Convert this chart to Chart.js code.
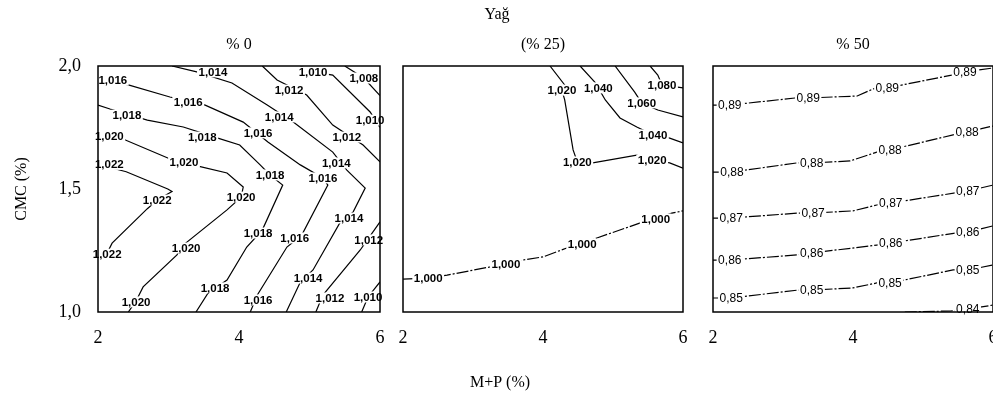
<!DOCTYPE html>
<html>
<head>
<meta charset="utf-8">
<script src="https://cdn.jsdelivr.net/npm/chart.js@4.4.1/dist/chart.umd.min.js"></script>
<style>
  html { margin: 0; padding: 0; overflow: hidden; background: #fff; }
  body { margin: 0; padding: 0; background: #fff; width: 1030px; height: 396px; position: relative; }
  canvas { position: absolute; left: 0; top: 0; }
</style>
</head>
<body>
<canvas id="c0" width="1025" height="396"></canvas>
<canvas id="c1" width="1025" height="396"></canvas>
<canvas id="c2" width="1025" height="396"></canvas>
<script>
// ---- axis and panel text ----
const xTicks = [2, 4, 6];
const yTicks = [1.0, 1.5, 2.0];
const panelTitles = ['% 0', '(% 25)', '% 50'];
const figureTitle = 'Yağ';
const xTitle = 'M+P (%)';
const yTitle = 'CMC (%)';

// ---- Yağ % 0 : contour levels, contour paths [M+P, CMC], label spots ----
const levelsA = ['1,022', '1,020', '1,018', '1,016', '1,014', '1,012', '1,012', '1,010', '1,010', '1,008'];
const pathsA = [
  [[2.00,1.60],[2.40,1.57],[2.99,1.50],[3.05,1.49],[2.84,1.455],[2.70,1.42],[2.20,1.28],[2.13,1.24],[2.00,1.22]],
  [[2.00,1.715],[2.38,1.70],[2.99,1.626],[3.42,1.593],[3.83,1.565],[4.06,1.508],[4.03,1.467],[3.83,1.415],[3.20,1.27],[3.12,1.232],[2.64,1.102],[2.54,1.045],[2.43,1.0]],
  [[2.00,1.841],[2.17,1.825],[2.70,1.780],[3.21,1.752],[3.70,1.707],[4.01,1.679],[4.30,1.598],[4.44,1.557],[4.62,1.516],[4.33,1.333],[4.11,1.264],[3.83,1.130],[3.56,1.077],[3.39,1.0]],
  [[2.00,1.947],[2.43,1.923],[3.02,1.874],[3.52,1.841],[4.06,1.772],[4.41,1.691],[4.87,1.598],[5.19,1.545],[5.26,1.516],[4.89,1.313],[4.68,1.264],[4.26,1.069],[4.16,1.0]],
  [[3.05,2.0],[3.40,1.976],[3.90,1.931],[4.40,1.841],[4.77,1.772],[5.33,1.650],[5.53,1.577],[5.79,1.504],[5.62,1.407],[5.43,1.362],[5.05,1.171],[4.87,1.122],[4.67,1.0]],
  [[4.33,2.0],[4.54,1.943],[4.96,1.882],[5.33,1.760],[5.76,1.679],[6.0,1.610]],
  [[6.0,1.366],[5.72,1.252],[5.19,1.069],[5.09,1.0]],
  [[4.87,2.0],[5.05,1.976],[5.33,1.963],[5.86,1.813],[6.0,1.75]],
  [[6.0,1.122],[5.83,1.061],[5.74,1.0]],
  [[5.50,2.0],[5.77,1.951],[6.0,1.88]]
];
const labelPosA = [
  [[2.16,1.60],[2.84,1.455],[2.13,1.235]],
  [[2.16,1.715],[3.22,1.610],[4.03,1.467],[3.25,1.26],[2.54,1.041]],
  [[2.41,1.80],[3.48,1.711],[4.44,1.557],[4.27,1.321],[3.66,1.098]],
  [[2.21,1.943],[3.28,1.854],[4.27,1.728],[5.19,1.545],[4.79,1.301],[4.27,1.049]],
  [[3.63,1.976],[4.57,1.793],[5.38,1.606],[5.56,1.382],[4.98,1.138]],
  [[4.71,1.902],[5.53,1.711]],
  [[5.84,1.293],[5.29,1.057]],
  [[5.05,1.976],[5.86,1.78]],
  [[5.83,1.061]],
  [[5.77,1.951]]
];

// ---- Yağ % 25 ----
const levelsB = ['1,020', '1,040', '1,060', '1,080', '1,000'];
const pathsB = [
  [[4.10,2.0],[4.31,1.923],[4.27,1.902],[4.31,1.862],[4.43,1.659],[4.49,1.610],[4.71,1.606],[5.34,1.638],[5.56,1.618],[5.81,1.606],[6.0,1.585]],
  [[4.53,2.0],[4.74,1.935],[4.79,1.911],[4.89,1.862],[5.10,1.789],[5.34,1.752],[5.57,1.720],[5.81,1.707],[6.0,1.687]],
  [[5.03,2.0],[5.31,1.894],[5.41,1.850],[5.64,1.821],[6.0,1.793]],
  [[5.53,2.0],[5.64,1.963],[5.70,1.923],[6.0,1.911]],
  [[2.0,1.134],[2.36,1.138],[2.63,1.150],[3.24,1.183],[3.47,1.195],[3.71,1.211],[4.00,1.224],[4.34,1.260],[4.56,1.276],[4.77,1.301],[5.39,1.362],[5.61,1.378],[5.84,1.402],[6.0,1.411]]
];
const labelPosB = [
  [[4.27,1.902],[4.49,1.610],[5.56,1.618]],
  [[4.79,1.911],[5.57,1.720]],
  [[5.41,1.850]],
  [[5.70,1.923]],
  [[2.36,1.138],[3.47,1.195],[4.56,1.276],[5.61,1.378]]
];
const dashedB = [false, false, false, false, true];

// ---- Yağ % 50 ----
const levelsC = ['0,89', '0,88', '0,87', '0,86', '0,85', '0,84'];
const pathsC = [
  [[2.0,1.841],[2.24,1.841],[3.17,1.870],[3.36,1.870],[4.06,1.878],[4.29,1.907],[4.49,1.911],[5.41,1.963],[5.60,1.976],[6.0,1.992]],
  [[2.0,1.569],[2.27,1.569],[3.20,1.606],[3.41,1.606],[3.96,1.614],[4.34,1.650],[4.53,1.659],[5.43,1.720],[5.63,1.732],[6.0,1.756]],
  [[2.0,1.382],[2.26,1.382],[3.21,1.402],[3.43,1.402],[4.0,1.411],[4.34,1.435],[4.54,1.443],[5.46,1.484],[5.64,1.492],[6.0,1.516]],
  [[2.0,1.211],[2.24,1.211],[3.20,1.232],[3.41,1.240],[4.34,1.272],[4.54,1.280],[5.46,1.321],[5.64,1.325],[6.0,1.350]],
  [[2.0,1.057],[2.26,1.057],[3.21,1.089],[3.41,1.089],[4.0,1.098],[4.34,1.118],[4.53,1.118],[5.43,1.171],[5.64,1.171],[6.0,1.191]],
  [[4.74,1.0],[5.39,1.004],[5.64,1.012],[6.0,1.028]]
];
const labelPosC = [
  [[2.24,1.841],[3.36,1.870],[4.49,1.911],[5.60,1.976]],
  [[2.27,1.569],[3.41,1.606],[4.53,1.659],[5.63,1.732]],
  [[2.26,1.382],[3.43,1.402],[4.54,1.443],[5.64,1.492]],
  [[2.24,1.211],[3.41,1.240],[4.54,1.280],[5.64,1.325]],
  [[2.26,1.057],[3.41,1.089],[4.53,1.118],[5.64,1.171]],
  [[5.64,1.012]]
];
const dashedC = [true, true, true, true, true, true];

// ---- drawing ----
const SERIF = '"Liberation Serif", "Times New Roman", serif';
const DASH = [12, 2, 2, 2];
const CANVAS_W = 1025;

function makePanel(canvasId, idx, areaLeft, areaRight, levels, paths, labelPos, dashed, labelFont) {
  const datasets = paths.map((p, i) => ({
    label: levels[i],
    data: p.map(([x, y]) => ({ x, y })),
    borderColor: '#000',
    borderWidth: 1.2,
    borderDash: dashed && dashed[i] ? DASH : [],
    pointRadius: 0,
    tension: 0,
    fill: false
  }));

  const contourLabels = {
    id: 'contourLabels' + idx,
    afterDatasetsDraw(chart) {
      const ctx = chart.ctx;
      const xs = chart.scales.x, ys = chart.scales.y;
      const a = chart.chartArea;
      ctx.save();
      ctx.font = labelFont;
      ctx.textAlign = 'center';
      ctx.textBaseline = 'middle';
      labelPos.forEach((spots, i) => {
        const txt = levels[i];
        const w = ctx.measureText(txt).width;
        spots.forEach(([x, y]) => {
          const px = xs.getPixelForValue(x);
          const py = ys.getPixelForValue(y);
          ctx.fillStyle = '#fff';
          ctx.fillRect(px - w / 2 - 1.5, py - 5.5, w + 3, 11);
          ctx.fillStyle = '#000';
          ctx.fillText(txt, px, py + 0.5);
        });
      });
      // panel frame
      ctx.lineWidth = 1.5;
      ctx.strokeStyle = '#000';
      ctx.strokeRect(a.left, a.top, a.right - a.left, a.bottom - a.top);
      // panel heading
      ctx.font = '16px ' + SERIF;
      ctx.fillStyle = '#000';
      ctx.textBaseline = 'middle';
      ctx.fillText(panelTitles[idx], (a.left + a.right) / 2, 45);
      if (idx === 1) {
        ctx.fillText(figureTitle, 497, 15);
        ctx.fillText(xTitle, 500, 383);
      }
      ctx.restore();
    }
  };

  return new Chart(document.getElementById(canvasId), {
    type: 'line',
    data: { datasets },
    options: {
      responsive: false,
      animation: false,
      events: [],
      layout: { padding: { top: 66, right: CANVAS_W - areaRight, left: 0, bottom: 0 } },
      plugins: { legend: { display: false }, tooltip: { enabled: false }, title: { display: false } },
      scales: {
        x: {
          type: 'linear', min: 2, max: 6,
          afterBuildTicks: s => { s.ticks = xTicks.map(v => ({ value: v })); },
          ticks: { color: '#000', font: { family: SERIF, size: 18 }, padding: 15, maxRotation: 0, autoSkip: false,
                   callback: v => String(v) },
          grid: { display: false, drawTicks: false },
          border: { display: false },
          afterFit: s => { s.height = 84; }
        },
        y: {
          type: 'linear', min: 1, max: 2,
          afterBuildTicks: s => { s.ticks = yTicks.map(v => ({ value: v })); },
          ticks: { display: idx === 0, color: '#000', font: { family: SERIF, size: 18 }, padding: 17,
                   callback: v => v.toFixed(1).replace('.', ',') },
          grid: { display: false, drawTicks: false },
          border: { display: false },
          title: { display: idx === 0, text: yTitle, color: '#000', font: { family: SERIF, size: 16 }, padding: { top: 12 } },
          afterFit: s => { s.width = areaLeft; }
        }
      }
    },
    plugins: [contourLabels]
  });
}

const LABEL_BOLD = 'bold 11.5px "Liberation Sans", Arial, sans-serif';
const LABEL_REG = '12px "Liberation Sans", Arial, sans-serif';
makePanel('c0', 0, 98, 380, levelsA, pathsA, labelPosA, null, LABEL_BOLD);
makePanel('c1', 1, 403, 683, levelsB, pathsB, labelPosB, dashedB, LABEL_BOLD);
makePanel('c2', 2, 713, 993, levelsC, pathsC, labelPosC, dashedC, LABEL_REG);
</script>
</body>
</html>
